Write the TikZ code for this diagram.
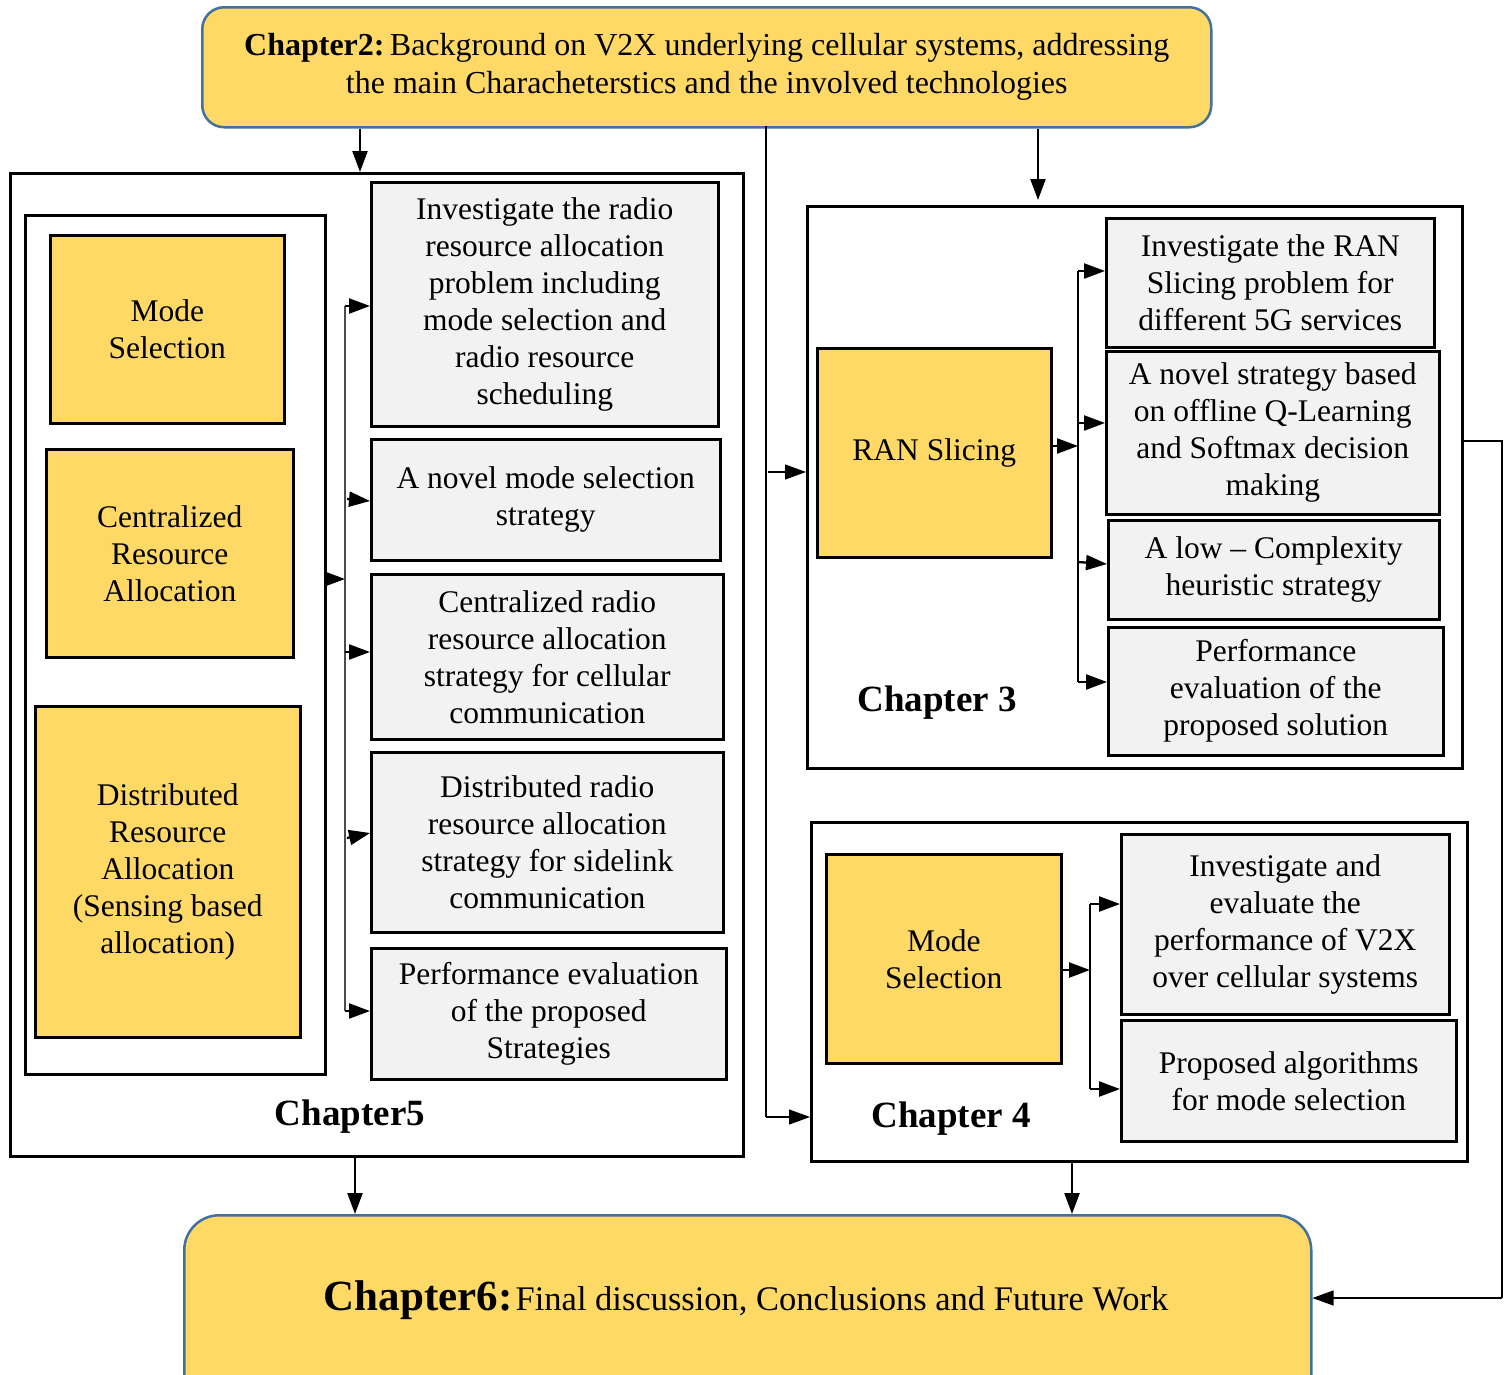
\documentclass[tikz,border=0pt]{standalone}
\usepackage{fontspec}
\setmainfont{Liberation Serif}
\usetikzlibrary{arrows.meta}
\definecolor{yel}{HTML}{FFD966}
\definecolor{gry}{HTML}{F2F2F2}
\definecolor{rim}{HTML}{41719C}
\begin{document}
\begin{tikzpicture}[x=1pt,y=-1pt,
  txt/.style={font=\fontsize{31.5}{37}\selectfont},
  ybox/.style={draw,line width=2.5pt,fill=yel,align=center,inner sep=0pt,anchor=north west,txt},
  gbox/.style={draw,line width=2.5pt,fill=gry,align=center,inner sep=0pt,anchor=north west,txt},
  frame/.style={draw,line width=2.5pt,inner sep=0pt,anchor=north west},
  chap/.style={font=\fontsize{37}{42}\selectfont\bfseries,inner sep=0pt},
  tip/.style={-{Triangle[length=21pt,width=15pt]}},
  arr/.style={tip,line width=2.3pt},
  bus/.style={line width=2pt},
  thin/.style={line width=1.2pt},
]
\clip (0,0) rectangle (1507,1374);
\fill[white] (0,0) rectangle (1507,1374);

% chapter 2 (top) and chapter 6 (bottom)
\node[draw=rim,line width=2.5pt,fill=yel,rounded corners=22pt,anchor=north west,
      minimum width=1009pt,minimum height=120pt,inner sep=0pt,align=center,
      font=\fontsize{32}{38}\selectfont] (c2) at (201,6)
  {\textbf{Chapter2:}\,Background on V2X underlying cellular systems, addressing\\
   the main Characheterstics and the involved technologies};
\node[draw=rim,line width=2.5pt,fill=yel,rounded corners=35pt,anchor=north west,
      minimum width=1127pt,minimum height=200pt,inner sep=0pt] (c6) at (183,1214) {};
\node[anchor=base,inner sep=0pt] (c6t) at (746,1310)
  {{\fontsize{43}{48}\selectfont\bfseries Chapter6:} {\fontsize{34.5}{40}\selectfont Final discussion, Conclusions and Future Work}};

% chapter 5 frame
\node[frame,minimum width=733pt,minimum height=983pt] (f5) at (9,172) {};
\node[frame,minimum width=300pt,minimum height=859pt] (l5) at (24,214) {};
\node[ybox,minimum width=234pt,minimum height=188pt] (y51) at (49,234) {Mode\\Selection};
\node[ybox,minimum width=247pt,minimum height=208pt] (y52) at (45,448) {Centralized\\Resource\\Allocation};
\node[ybox,minimum width=265pt,minimum height=331pt] (y53) at (34,705) {Distributed\\Resource\\Allocation\\(Sensing based\\allocation)};
\node[gbox,minimum width=347pt,minimum height=244pt] (g51) at (370,181)
  {Investigate the radio\\resource allocation\\problem including\\mode selection and\\radio resource\\scheduling};
\node[gbox,minimum width=349pt,minimum height=121pt] (g52) at (370,438)
  {A novel mode selection\\strategy};
\node[gbox,minimum width=352pt,minimum height=165pt] (g53) at (370,573)
  {Centralized radio\\resource allocation\\strategy for cellular\\communication};
\node[gbox,minimum width=352pt,minimum height=180pt] (g54) at (370,751)
  {Distributed radio\\resource allocation\\strategy for sidelink\\communication};
\node[gbox,minimum width=355pt,minimum height=131pt] (g55) at (370,947)
  {Performance evaluation\\of the proposed\\Strategies};
\node[chap] (t5) at (350,1117) {Chapter5};

\coordinate (b5top) at (345,306);
\coordinate (b5mid) at (345,579);
\coordinate (b5bot) at (345,1011);
\draw[bus,black!70] (b5top) -- (b5bot);
\draw[arr] (l5.east |- b5mid) -- (b5mid);
\coordinate (b51) at (345,306);
\coordinate (b52) at (347,499);
\coordinate (b53) at (345,652);
\coordinate (b54) at (347,838);
\coordinate (b55) at (345,1011);
\draw[arr] (b51) -- (b51 -| g51.west);
\draw[arr] (b52) -- (g52.west |- 0,501);
\draw[arr] (b53) -- (b53 -| g53.west);
\draw[arr] (b54) -- (g54.west |- 0,833);
\draw[arr] (b55) -- (b55 -| g55.west);

% chapter 3 frame
\node[frame,minimum width=655pt,minimum height=562pt] (f3) at (806,205) {};
\node[ybox,minimum width=234pt,minimum height=209pt] (y3) at (816,347) {RAN Slicing};
\node[gbox,minimum width=328pt,minimum height=129pt] (g31) at (1105,217)
  {\fontsize{31.5}{39}\selectfont Investigate the RAN\\Slicing problem for\\different 5G services};
\node[gbox,minimum width=333pt,minimum height=163pt] (g32) at (1105,350)
  {A novel strategy based\\on offline Q-Learning\\and Softmax decision\\making};
\node[gbox,minimum width=331pt,minimum height=99pt] (g33) at (1107,519)
  {A low -- Complexity\\heuristic strategy};
\node[gbox,minimum width=335pt,minimum height=128pt] (g34) at (1107,626)
  {Performance\\evaluation of the\\proposed solution};
\node[chap] (t3) at (937,703) {Chapter 3};

\coordinate (b3top) at (1078,271);
\coordinate (b3mid) at (1078,446);
\coordinate (b3bot) at (1078,682);
\draw[bus] (b3top) -- (b3bot);
\draw[arr] (y3.east |- b3mid) -- (b3mid);
\coordinate (b32) at (1078,423);
\coordinate (b33) at (1078,562);
\draw[arr] (b3top) -- (b3top -| g31.west);
\draw[arr] (b32) -- (b32 -| g32.west);
\draw[arr] (b33) -- (g33.west |- 0,564);
\draw[arr] (b3bot) -- (b3bot -| g34.west);

% chapter 4 frame
\node[frame,minimum width=656pt,minimum height=339pt] (f4) at (810,821) {};
\node[ybox,minimum width=235pt,minimum height=209pt] (y4) at (825,853) {Mode\\Selection};
\node[gbox,minimum width=328pt,minimum height=180pt] (g41) at (1120,833)
  {\fontsize{31.5}{40}\selectfont Investigate and\\evaluate the\\performance of V2X\\over cellular systems};
\node[gbox,minimum width=335pt,minimum height=121pt] (g42) at (1120,1019)
  {Proposed algorithms\\for mode selection};
\node[chap] (t4) at (951,1119) {Chapter 4};

\coordinate (b4top) at (1090,904);
\coordinate (b4mid) at (1090,970);
\coordinate (b4bot) at (1090,1089);
\draw[bus] (b4top) -- (b4bot);
\draw[arr] (y4.east |- b4mid) -- (b4mid);
\draw[arr] (b4top) -- (b4top -| g41.west);
\draw[arr] (b4bot) -- (b4bot -| g42.west);

% links between chapters
\draw[arr] (c2.south -| 360,0) -- (f5.north -| 360,0);
\draw[arr] (c2.south -| 1038,0) -- (1038,200);
\coordinate (split) at (766,126);
\coordinate (down) at (766,1117);
\draw[thin] (split) -- (down);
\draw[thin,tip] (down) -- (down -| f4.west);
\draw[thin,tip] (768,472) -- (f3.west |- 0,472);
\draw[arr] (f5.south -| 355,0) -- (c6.north -| 355,0);
\draw[arr] (f4.south -| 1072,0) -- (c6.north -| 1072,0);
\coordinate (r1) at (1502,441);
\coordinate (r2) at (1502,1298);
\draw[thin] (f3.east |- r1) -- (r1) -- (r2);
\draw[thin,tip] (r2) -- (r2 -| c6.east);
\end{tikzpicture}
\end{document}
